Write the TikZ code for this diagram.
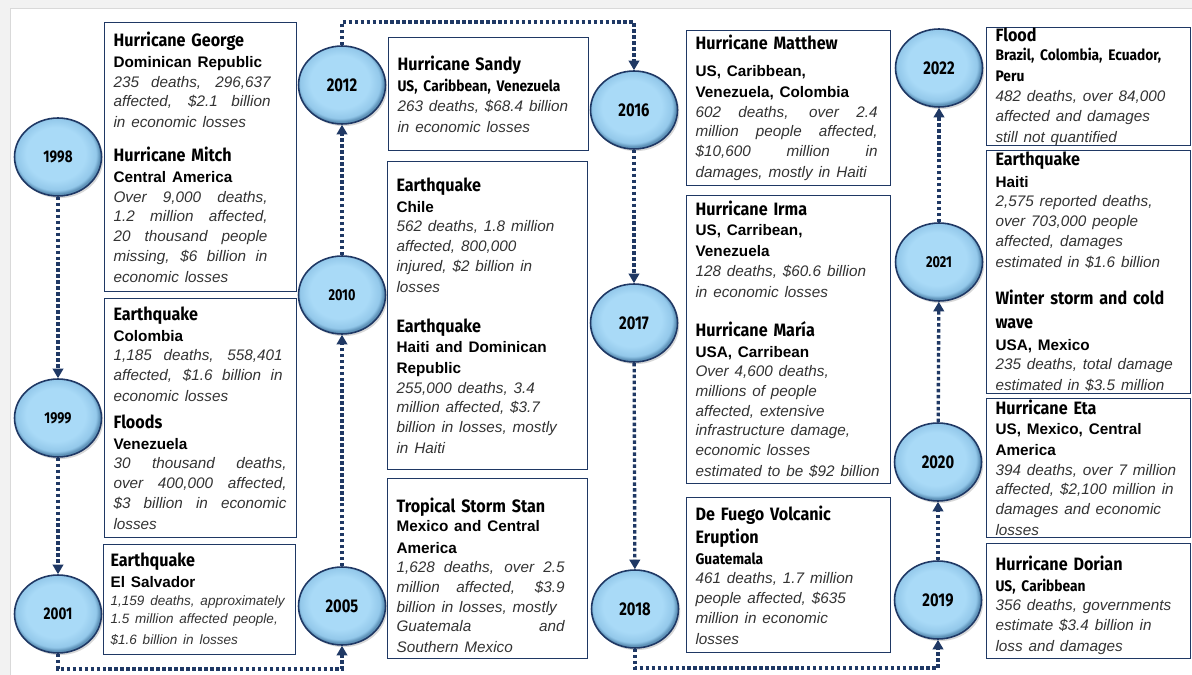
\documentclass[tikz,border=0pt]{standalone}
\usepackage{fontspec}
\usetikzlibrary{arrows.meta,shapes.geometric,shadows}

\newfontfamily\headfam[FakeStretch=0.9]{Fira Sans}
\newfontfamily\yearfam[FakeStretch=0.8]{Fira Sans}
\newfontfamily\bodyfam{Liberation Sans}

\definecolor{navy}{HTML}{1F3864}
\definecolor{framegray}{HTML}{F2F2F2}
\definecolor{bodygray}{HTML}{333333}
\definecolor{bubblelight}{HTML}{A9DAF7}
\definecolor{bubblemid}{HTML}{93C8EA}
\definecolor{bubbledark}{HTML}{5E92B8}

\pgfdeclareradialshading{bubble}{\pgfpoint{-2bp}{3bp}}{%
  color(0bp)=(bubblelight); color(17bp)=(bubblelight);
  color(23bp)=(bubblemid); color(25bp)=(bubbledark); color(50bp)=(bubbledark)}

% text pieces inside the event cards
\newcommand\evname[1]{{\headfam\bfseries\fontsize{10.2}{11.2}\selectfont #1}}
\newcommand\evplace[1]{{\bodyfam\bfseries\fontsize{8.7}{11.2}\selectfont #1}}
\newcommand\evplacec[1]{{\headfam\bfseries\fontsize{8.7}{11.2}\selectfont #1}}
\newcommand\evinfo[1]{{\bodyfam\itshape\color{bodygray}\fontsize{8.7}{11.2}\selectfont #1}}
\newcommand\evinfosm[1]{{\bodyfam\itshape\color{bodygray}\fontsize{7.7}{10.2}\selectfont #1}}
% a justified line (align=left freezes the spaces, so free them here)
\newcommand\jline[2]{{\spaceskip=0pt\xspaceskip=0pt\makebox[#1][s]{#2}}}

\begin{document}
\begin{tikzpicture}[
  x=0.02cm, y=-0.02cm,
  year/.style={
    ellipse,
    draw=navy,
    line width=0.9pt,
    shade,
    shading=bubble,
    minimum width=1.74cm,
    minimum height=1.56cm,
    inner sep=0pt,
    drop shadow={shadow xshift=1pt,shadow yshift=-1.2pt,opacity=0.3},
    font=\yearfam\bfseries\fontsize{10.5}{12}\selectfont
  },
  yearmd/.style={year,font=\yearfam\bfseries\fontsize{9.6}{11}\selectfont},
  yearsm/.style={year,font=\yearfam\bfseries\fontsize{9}{10}\selectfont},
  card/.style={
    draw=navy,
    line width=0.65pt,
    fill=white,
    anchor=north west,
    align=left,
    inner xsep=0.18cm,
    inner ysep=1pt
  },
  link/.style={
    draw=navy,
    line width=1.9pt,
    dash pattern=on 2pt off 1.4pt,
    -{Triangle[width=6pt,length=5.5pt]}
  }
]
\useasboundingbox (0,0) rectangle (1192,675);
\fill[framegray] (0,0) rectangle (1192,675);
\fill[white] (10,8) rectangle (1192,675);
\draw[black!15] (10,675) -- (10,8) -- (1192,8);

% years
\node[yearmd] (y1998) at (58,157) {1998};
\node[yearsm] (y1999) at (58,418) {1999};
\node[yearmd] (y2001) at (58,614) {2001};
\node[year]   (y2005) at (342,606) {2005};
\node[yearsm] (y2010) at (342,295) {2010};
\node[year]   (y2012) at (342,85) {2012};
\node[year]   (y2016) at (634,110) {2016};
\node[year]   (y2017) at (634,323) {2017};
\node[year]   (y2018) at (635,609) {2018};
\node[year]   (y2019) at (938,600) {2019};
\node[year]   (y2020) at (938,462) {2020};
\node[yearsm] (y2021) at (939,262) {2021};
\node[year]   (y2022) at (939,68) {2022};

% first column of events
\node[card,text width=3.48cm,minimum height=5.38cm] (georgeMitch) at (104,22) {
  \evname{Hurricane George}\\
  \evplace{Dominican Republic}\\
  \evinfo{\jline{3.14cm}{235 deaths, 296,637}\\
    \jline{3.14cm}{affected, \$2.1 billion}\\
    in economic losses}\\[7pt]
  \evname{Hurricane Mitch}\\
  \evplace{Central America}\\
  \evinfo{\jline{3.08cm}{Over 9,000 deaths,}\\
    \jline{3.08cm}{1.2 million affected,}\\
    \jline{3.08cm}{20 thousand people}\\
    \jline{3.08cm}{missing, \$6 billion in}\\
    economic losses}
};

\node[card,text width=3.48cm,minimum height=4.78cm] (colVen) at (104,298) {
  \evname{Earthquake}\\
  \evplace{Colombia}\\
  \evinfo{\jline{3.38cm}{1,185 deaths, 558,401}\\
    \jline{3.38cm}{affected, \$1.6 billion in}\\
    economic losses}\\[3pt]
  \evname{Floods}\\
  \evplace{Venezuela}\\
  \evinfo{\jline{3.46cm}{30 thousand deaths,}\\
    \jline{3.46cm}{over 400,000 affected,}\\
    \jline{3.46cm}{\$3 billion in economic}\\
    losses}
};

\node[card,text width=3.56cm,inner xsep=0.14cm,minimum height=2.2cm] (salvador) at (103,544) {
  \evname{Earthquake}\\
  \evplace{El Salvador}\\
  \evinfosm{1,159 deaths, approximately\\
    1.5 million affected people,\\
    \$1.6 billion in losses}
};

% second column of events
\node[card,text width=3.64cm,minimum height=2.26cm] (sandy) at (388,37) {
  \evname{Hurricane Sandy}\\
  \evplacec{US, Caribbean, Venezuela}\\
  \evinfo{263 deaths, \$68.4 billion\\
    in economic losses}
};

\node[card,text width=3.64cm,minimum height=6.16cm] (chileHaiti) at (387,161) {
  \evname{Earthquake}\\
  \evplace{Chile}\\
  \evinfo{562 deaths, 1.8 million\\
    affected, 800,000\\
    injured, \$2 billion in\\
    losses}\\[11pt]
  \evname{Earthquake}\\
  \evplace{Haiti and Dominican\\
    Republic}\\
  \evinfo{255,000 deaths, 3.4\\
    million affected, \$3.7\\
    billion in losses, mostly\\
    in Haiti}
};

\node[card,text width=3.64cm,minimum height=3.6cm] (stan) at (387,478) {
  \evname{\rule{0pt}{16pt}Tropical Storm Stan}\\
  \evplace{Mexico and Central\\
    America}\\
  \evinfo{\jline{3.36cm}{1,628 deaths, over 2.5}\\
    \jline{3.36cm}{million affected, \$3.9}\\
    billion in losses, mostly\\
    \jline{3.36cm}{Guatemala and}\\
    Southern Mexico}
};

% third column of events
\node[card,text width=3.72cm,minimum height=3.1cm] (matthew) at (686,30) {
  \evname{Hurricane Matthew}\\[4pt]
  \evplace{US, Caribbean,\\
    Venezuela, Colombia}\\
  \evinfo{\jline{3.64cm}{602 deaths, over 2.4}\\
    \jline{3.64cm}{million people affected,}\\
    \jline{3.64cm}{\$10,600 million in}\\
    damages, mostly in Haiti}
};

\node[card,text width=3.72cm,minimum height=5.76cm] (irmaMaria) at (686,195) {
  \evname{Hurricane Irma}\\
  \evplace{US, Carribean,\\
    Venezuela}\\
  \evinfo{128 deaths, \$60.6 billion\\
    in economic losses}\\[10pt]
  \evname{Hurricane María}\\
  \evplace{USA, Carribean}\\
  \evinfo{Over 4,600 deaths,\\
    millions of people\\
    affected, extensive\\
    infrastructure damage,\\
    economic losses\\
    estimated to be \$92 billion}
};

\node[card,text width=3.72cm,minimum height=3.1cm] (fuego) at (686,497) {
  \evname{De Fuego Volcanic\\[1pt]
    Eruption}\\
  \evplacec{Guatemala}\\
  \evinfo{461 deaths, 1.7 million\\
    people affected, \$635\\
    million in economic\\
    losses}
};

% fourth column of events
\node[card,text width=3.72cm,minimum height=2.32cm,inner ysep=0pt] (flood) at (986,27) {
  \evname{Flood}\\
  \evplacec{Brazil, Colombia, Ecuador,\\
    Peru}\\
  \evinfo{482 deaths, over 84,000\\
    affected and damages\\
    still not quantified}
};

\node[card,text width=3.72cm,minimum height=4.84cm] (haitiWinter) at (986,150) {
  \evname{Earthquake}\\
  \evplace{Haiti}\\
  \evinfo{2,575 reported deaths,\\
    over 703,000 people\\
    affected, damages\\
    estimated in \$1.6 billion}\\[10pt]
  \evname{Winter storm and cold\\[2pt]
    wave}\\
  \evplace{USA, Mexico}\\
  \evinfo{235 deaths, total damage\\
    estimated in \$3.5 million}
};

\node[card,text width=3.72cm,minimum height=2.78cm,inner ysep=0pt] (eta) at (986,398) {
  \evname{Hurricane Eta}\\
  \evplace{US, Mexico, Central\\
    America}\\
  \evinfo{394 deaths, over 7 million\\
    affected, \$2,100 million in\\
    damages and economic\\
    losses}
};

\node[card,text width=3.72cm,minimum height=2.3cm] (dorian) at (986,543) {
  \evname{\rule{0pt}{13pt}Hurricane Dorian}\\
  \evplacec{US, Caribbean}\\
  \evinfo{356 deaths, governments\\
    estimate \$3.4 billion in\\
    loss and damages}
};

% turning points of the timeline
\coordinate (lowA) at (200,669);
\coordinate (topB) at (490,22);
\coordinate (lowC) at (790,668);

\draw[link] (y1998) -- (y1999);
\draw[link] (y1999) -- (y2001);
\draw[link] (y2001.south) |- (lowA) -| (y2005.south);
\draw[link] (y2005) -- (y2010);
\draw[link] (y2010) -- (y2012);
\draw[link] (y2012.north) |- (topB) -| (y2016.north);
\draw[link] (y2016) -- (y2017);
\draw[link] (y2017) -- (y2018);
\draw[link] (y2018.south) |- (lowC) -| (y2019.south);
\draw[link] (y2019) -- (y2020);
\draw[link] (y2020) -- (y2021);
\draw[link] (y2021) -- (y2022);

\end{tikzpicture}
\end{document}
